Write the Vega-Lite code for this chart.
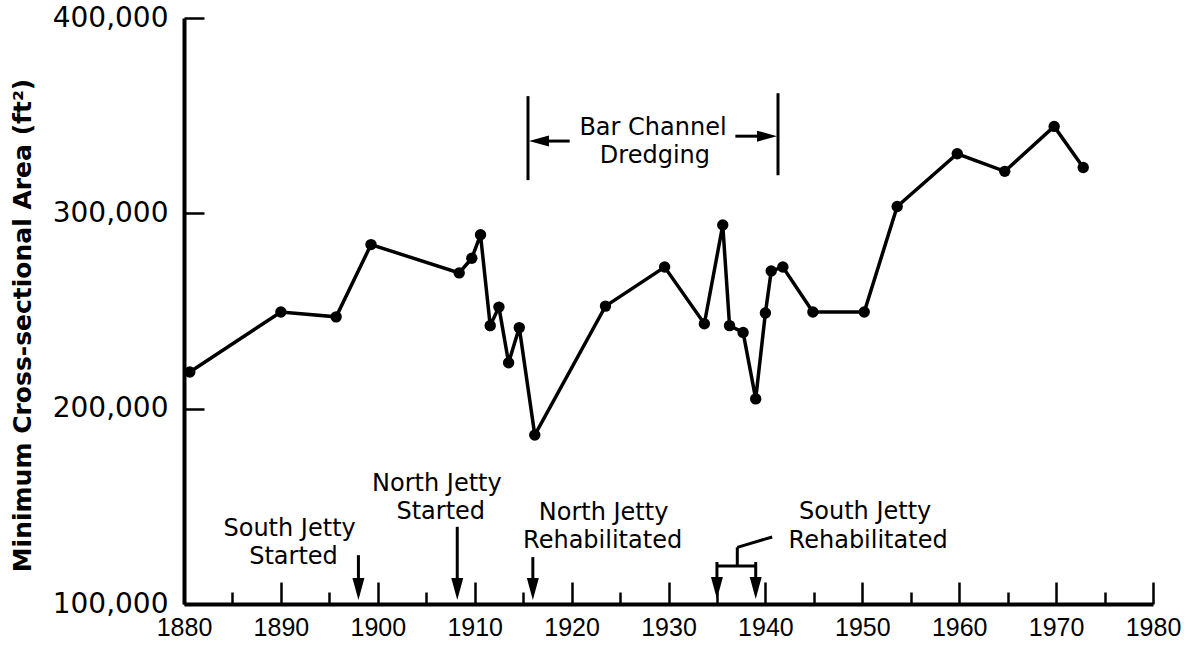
{
  "$schema": "https://vega.github.io/schema/vega-lite/v6.json",
  "width": 969,
  "height": 586,
  "autosize": {"type": "none"},
  "padding": {"left": 184, "top": 18, "right": 39, "bottom": 43},
  "background": "white",
  "config": {"view": {"stroke": null}},
  "datasets": {
    "series": [
      {"year": 1880.6, "area": 218800},
      {"year": 1890.0, "area": 249500},
      {"year": 1895.7, "area": 247000},
      {"year": 1899.3, "area": 284000},
      {"year": 1908.4, "area": 269500},
      {"year": 1909.7, "area": 277000},
      {"year": 1910.6, "area": 289000},
      {"year": 1911.6, "area": 242500},
      {"year": 1912.5, "area": 252000},
      {"year": 1913.5, "area": 223500},
      {"year": 1914.6, "area": 241500},
      {"year": 1916.2, "area": 186500},
      {"year": 1923.5, "area": 252500},
      {"year": 1929.6, "area": 272500},
      {"year": 1933.7, "area": 243500},
      {"year": 1935.6, "area": 294000},
      {"year": 1936.3, "area": 242500},
      {"year": 1937.7, "area": 239000},
      {"year": 1939.0, "area": 205000},
      {"year": 1940.0, "area": 249000},
      {"year": 1940.6, "area": 270500},
      {"year": 1941.8, "area": 272500},
      {"year": 1944.9, "area": 249500},
      {"year": 1950.2, "area": 249500},
      {"year": 1953.6, "area": 303500},
      {"year": 1959.8, "area": 330500},
      {"year": 1964.7, "area": 321500},
      {"year": 1969.8, "area": 344500},
      {"year": 1972.8, "area": 323500}
    ],
    "segments": [
      {"year": 1915.5, "area": 360000, "year2": 1915.5, "area2": 317000},
      {"year": 1941.3, "area": 361500, "year2": 1941.3, "area2": 319500},
      {"year": 1919.8, "area": 337000, "year2": 1917.0, "area2": 337000},
      {"year": 1936.9, "area": 339500, "year2": 1939.8, "area2": 339500},
      {"year": 1898.0, "area": 125000, "year2": 1898.0, "area2": 108000},
      {"year": 1908.2, "area": 139500, "year2": 1908.2, "area2": 108000},
      {"year": 1916.0, "area": 124000, "year2": 1916.0, "area2": 108000},
      {"year": 1935.0, "area": 121500, "year2": 1935.0, "area2": 108000},
      {"year": 1939.0, "area": 121500, "year2": 1939.0, "area2": 108000},
      {"year": 1935.0, "area": 119500, "year2": 1939.0, "area2": 119500},
      {"year": 1937.1, "area": 119500, "year2": 1937.1, "area2": 129000},
      {"year": 1937.1, "area": 129000, "year2": 1940.7, "area2": 134300}
    ],
    "heads": [
      {"year": 1915.6, "area": 337000, "dir": "left"},
      {"year": 1941.2, "area": 339500, "dir": "right"},
      {"year": 1898.0, "area": 102000, "dir": "down"},
      {"year": 1908.2, "area": 102000, "dir": "down"},
      {"year": 1916.0, "area": 102000, "dir": "down"},
      {"year": 1935.0, "area": 102500, "dir": "down"},
      {"year": 1939.0, "area": 102500, "dir": "down"}
    ],
    "notes": [
      {"year": 1928.4, "area": 340100, "label": "Bar Channel"},
      {"year": 1928.6, "area": 325800, "label": "Dredging"},
      {"year": 1890.9, "area": 134800, "label": "South Jetty"},
      {"year": 1891.3, "area": 120500, "label": "Started"},
      {"year": 1906.1, "area": 157900, "label": "North Jetty"},
      {"year": 1906.5, "area": 143500, "label": "Started"},
      {"year": 1923.3, "area": 143000, "label": "North Jetty"},
      {"year": 1923.2, "area": 128700, "label": "Rehabilitated"},
      {"year": 1950.3, "area": 143500, "label": "South Jetty"},
      {"year": 1950.6, "area": 128700, "label": "Rehabilitated"}
    ]
  },
  "encoding": {
    "x": {
      "field": "year",
      "type": "quantitative",
      "scale": {"domain": [1880, 1980], "nice": false, "zero": false},
      "axis": {
        "title": null,
        "values": [1880, 1885, 1890, 1895, 1900, 1905, 1910, 1915, 1920, 1925, 1930, 1935, 1940, 1945, 1950, 1955, 1960, 1965, 1970, 1975, 1980],
        "labelExpr": "datum.value % 10 === 0 ? '' + datum.value : ''",
        "labelFont": "Liberation Sans",
        "labelFontSize": 25,
        "labelColor": "black",
        "labelPadding": 33,
        "labelFlush": false,
        "labelOverlap": false,
        "grid": false,
        "domainColor": "black",
        "domainWidth": 4,
        "tickColor": "black",
        "tickWidth": 2.5,
        "tickSize": {"condition": {"test": "datum.value % 10 === 0", "value": -22}, "value": -12}
      }
    },
    "y": {
      "field": "area",
      "type": "quantitative",
      "scale": {"domain": [100000, 400000], "nice": false, "zero": false},
      "axis": {
        "title": "Minimum Cross-sectional Area (ft²)",
        "titleFont": "DejaVu Sans",
        "titleFontWeight": "bold",
        "titleFontSize": 25,
        "titleColor": "black",
        "titleAngle": -90,
        "titleX": -162,
        "titleY": 307,
        "titleAlign": "center",
        "titleBaseline": "middle",
        "values": [100000, 200000, 300000, 400000],
        "format": ",d",
        "labelFont": "DejaVu Sans",
        "labelFontSize": 28,
        "labelColor": "black",
        "labelPadding": 36,
        "labelBaseline": "middle",
        "grid": false,
        "domainColor": "black",
        "domainWidth": 4,
        "tickColor": "black",
        "tickWidth": 2.5,
        "tickSize": -20
      }
    }
  },
  "layer": [
    {
      "data": {"name": "series"},
      "mark": {"type": "line", "color": "black", "strokeWidth": 3.5}
    },
    {
      "data": {"name": "series"},
      "mark": {"type": "point", "filled": true, "color": "black", "opacity": 1, "size": 130}
    },
    {
      "data": {"name": "segments"},
      "mark": {"type": "rule", "color": "black", "strokeWidth": 3},
      "encoding": {
        "x2": {"field": "year2"},
        "y2": {"field": "area2"}
      }
    },
    {
      "data": {"name": "heads"},
      "mark": {"type": "point", "filled": true, "color": "black", "opacity": 1, "size": 400},
      "encoding": {
        "shape": {
          "field": "dir",
          "type": "nominal",
          "scale": {
            "domain": ["down", "left", "right"],
            "range": ["M0,0L-0.6,-2.2L0.6,-2.2Z", "M0,0L2,-0.55L2,0.55Z", "M0,0L-2,-0.55L-2,0.55Z"]
          },
          "legend": null
        }
      }
    },
    {
      "data": {"name": "notes"},
      "mark": {"type": "text", "font": "DejaVu Sans", "fontSize": 24, "color": "black", "align": "center", "baseline": "alphabetic"},
      "encoding": {
        "text": {"field": "label", "type": "nominal"}
      }
    }
  ]
}
